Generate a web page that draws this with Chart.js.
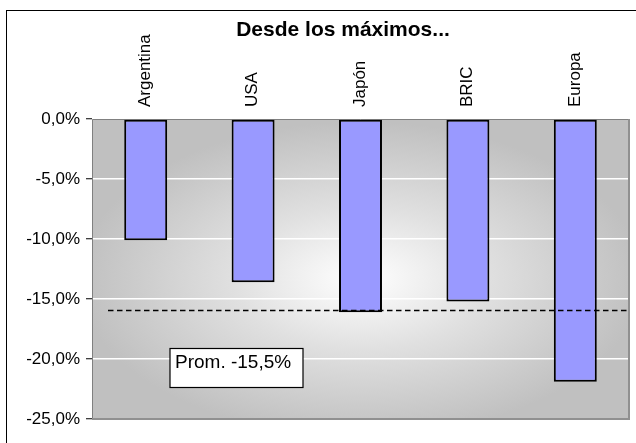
<!DOCTYPE html>
<html><head><meta charset="utf-8">
<script src="https://cdn.jsdelivr.net/npm/chart.js@4/dist/chart.umd.min.js"></script>
<style>html,body{margin:0;padding:0;background:#fff}#wrap{width:636px;height:443px;position:relative}</style>
</head><body><div id="wrap"><canvas id="c" width="636" height="443"></canvas></div>
<script>
const categories = ['Argentina', 'USA', 'Japón', 'BRIC', 'Europa'];
const drawdown = [-10.1, -13.6, -16.1, -15.2, -21.9];
const yTicks = [0, -5, -10, -15, -20, -25];
const averageLine = -15.9;
const averageLabel = 'Prom. -15,5%';
const titleText = 'Desde los máximos...';

const FONT = "'Liberation Sans', Arial, sans-serif";
const fmt = v => (Number(v) === 0 ? 0 : Number(v)).toFixed(1).replace('.', ',') + '%';

const decor = {
  id: 'decor',
  beforeDraw(chart) {
    const {ctx, chartArea: a} = chart;
    ctx.save();
    // outer frame (cropped at right/bottom)
    ctx.strokeStyle = '#000'; ctx.lineWidth = 1;
    ctx.strokeRect(6.5, 10.5, 1000, 1000);
    // title
    ctx.fillStyle = '#000'; ctx.font = 'bold 21px ' + FONT;
    ctx.textAlign = 'center'; ctx.textBaseline = 'middle';
    ctx.fillText(titleText, 343, 30);
    // plot background: gradient from centre
    const cx = (a.left + a.right) / 2, cy = (a.top + a.bottom) / 2 + 10;
    const rx = (a.right - a.left) / 2 * 1.05, ry = (a.bottom - a.top) / 2 * 1.05;
    ctx.beginPath(); ctx.rect(a.left, a.top, a.right - a.left, a.bottom - a.top); ctx.clip();
    ctx.translate(cx, cy); ctx.scale(rx / ry, 1);
    const g = ctx.createRadialGradient(0, 0, 0, 0, 0, ry);
    g.addColorStop(0, '#ffffff');
    g.addColorStop(0.45, '#e0e0e0');
    g.addColorStop(1, '#c0c0c0');
    ctx.fillStyle = g;
    ctx.fillRect(-ry * 3, -ry * 3, ry * 6, ry * 6);
    ctx.restore();
  },
  beforeDatasetsDraw(chart) {
    const {ctx, chartArea: a} = chart;
    ctx.save();
    ctx.strokeStyle = '#808080'; ctx.lineWidth = 1;
    ctx.beginPath();
    ctx.moveTo(a.left + 0.5, a.bottom); ctx.lineTo(a.left + 0.5, a.top + 0.5); ctx.lineTo(a.right, a.top + 0.5);
    ctx.stroke();
    ctx.strokeStyle = '#909090'; ctx.lineWidth = 2;
    ctx.beginPath();
    ctx.moveTo(a.right, a.top); ctx.lineTo(a.right, a.bottom); ctx.lineTo(a.left, a.bottom);
    ctx.stroke();
    ctx.restore();
  },
  afterDatasetsDraw(chart) {
    const {ctx, chartArea: a, scales: {y}} = chart;
    ctx.save();
    const yy = Math.round(y.getPixelForValue(averageLine)) + 0.5;
    ctx.strokeStyle = '#000'; ctx.lineWidth = 1.5; ctx.setLineDash([5.5, 3.5]);
    ctx.beginPath(); ctx.moveTo(a.left + 16, yy); ctx.lineTo(a.right + 1, yy); ctx.stroke();
    ctx.setLineDash([]);
    // label box
    const bx = a.left + 78, by = Math.round(y.getPixelForValue(-19.1)) + 0.5;
    const bw = 133, bh = 39;
    ctx.fillStyle = '#fff'; ctx.fillRect(bx, by, bw, bh);
    ctx.strokeStyle = '#000'; ctx.lineWidth = 1.2; ctx.strokeRect(bx, by, bw, bh);
    ctx.fillStyle = '#000'; ctx.font = '19px ' + FONT; ctx.textBaseline = 'alphabetic'; ctx.textAlign = 'left';
    ctx.fillText(averageLabel, bx + 5, by + 19);
    ctx.restore();
  }
};

new Chart(document.getElementById('c'), {
  type: 'bar',
  data: {
    labels: categories,
    datasets: [{
      data: drawdown,
      backgroundColor: '#9999ff',
      borderColor: '#000',
      borderWidth: 2,
      borderSkipped: false,
      barPercentage: 0.4,
      categoryPercentage: 1.0
    }]
  },
  options: {
    responsive: false,
    animation: false,
    layout: {padding: {left: 0, right: 7, top: 30, bottom: 24}},
    plugins: {
      legend: {display: false},
      tooltip: {enabled: false},
      title: {display: false}
    },
    scales: {
      x: {
        position: 'top',
        grid: {display: true, drawOnChartArea: false, drawTicks: false},
        border: {display: false},
        ticks: {color: '#000', font: {family: FONT, size: 17}, minRotation: 90, maxRotation: 90, padding: 12, labelOffset: 20, autoSkip: false},
        afterFit(s) { s.height = 89; }
      },
      y: {
        min: -25, max: 0,
        afterBuildTicks(s) { s.ticks = yTicks.map(v => ({value: v})); },
        grid: {color: '#ffffff', lineWidth: 1.5, tickColor: '#000', tickLength: 6, tickWidth: 1},
        border: {display: false},
        ticks: {color: '#000', font: {family: FONT, size: 17}, padding: 6, callback: v => fmt(v)},
        afterFit(s) { s.width = 92; }
      }
    }
  },
  plugins: [decor]
});
</script>
</body></html>
